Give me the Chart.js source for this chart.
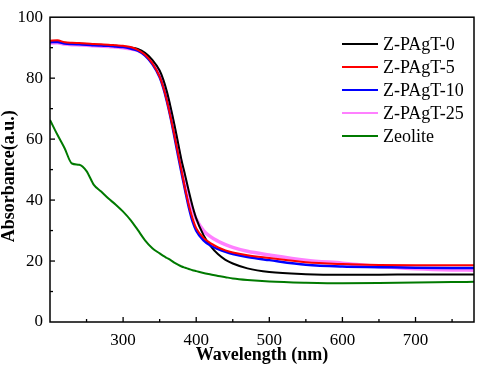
<!DOCTYPE html>
<html>
<head>
<meta charset="utf-8">
<script src="https://cdn.jsdelivr.net/npm/chart.js@4/dist/chart.umd.min.js"></script>
<style>
  html, body { margin: 0; padding: 0; background: #fff; }
</style>
</head>
<body>
<canvas id="uv" width="477" height="374"></canvas>
<script>
// wavelength grid (nm) shared by every curve
const wavelengths = [200, 210, 220, 230, 240, 250, 260, 270, 280, 290, 300, 310, 320, 330, 340, 350, 355, 360, 365, 370,
  375, 380, 385, 390, 395, 400, 410, 420, 430, 440, 450, 470, 500, 550, 600, 650, 700, 750, 780];

const zPAgT0 = [92.0, 92.1, 91.6, 91.4, 91.3, 91.2, 91.0, 90.9, 90.8, 90.6, 90.4, 90.1, 89.6, 88.3, 86.0, 82.5, 79.5, 75.5, 70.5, 65.0,
  59.0, 53.0, 48.0, 42.8, 38.0, 34.0, 28.5, 24.8, 22.2, 20.4, 19.2, 17.6, 16.4, 15.7, 15.5, 15.5, 15.6, 15.6, 15.6];
const zPAgT5 = [92.3, 92.4, 91.8, 91.6, 91.5, 91.4, 91.2, 91.1, 91.0, 90.8, 90.6, 90.2, 89.3, 87.7, 84.9, 80.5, 77.0, 72.5, 67.2, 61.5,
  55.4, 49.5, 43.5, 38.2, 34.0, 30.8, 27.6, 25.8, 24.5, 23.5, 22.8, 21.9, 21.0, 19.6, 19.0, 18.7, 18.6, 18.6, 18.6];
const zPAgT10 = [91.8, 91.9, 91.4, 91.2, 91.1, 91.0, 90.8, 90.7, 90.6, 90.4, 90.2, 89.7, 89.0, 87.4, 84.6, 80.3, 76.8, 72.3, 67.0, 61.0,
  54.8, 48.8, 43.0, 37.5, 33.0, 30.0, 26.8, 25.0, 23.9, 23.0, 22.3, 21.3, 20.3, 18.8, 18.2, 18.0, 17.8, 17.7, 17.7];
const zPAgT25 = [91.5, 91.6, 91.2, 91.0, 90.9, 90.8, 90.6, 90.5, 90.4, 90.2, 90.0, 89.6, 89.1, 87.7, 85.2, 81.3, 78.2, 74.0, 69.0, 63.3,
  57.3, 51.5, 46.0, 41.0, 37.0, 33.8, 30.0, 27.9, 26.5, 25.4, 24.5, 23.2, 22.0, 20.3, 19.3, 18.2, 17.5, 17.1, 17.0];
const zeolite = [66.3, 61.5, 57.0, 52.0, 51.6, 49.5, 45.0, 42.8, 40.5, 38.5, 36.2, 33.5, 30.2, 26.8, 24.2, 22.5, 21.7, 21.0, 20.3, 19.5,
  18.8, 18.2, 17.8, 17.4, 17.0, 16.7, 16.1, 15.6, 15.1, 14.7, 14.3, 13.8, 13.3, 12.9, 12.7, 12.8, 13.0, 13.1, 13.2];

const seriesNames = ["Z-PAgT-0", "Z-PAgT-5", "Z-PAgT-10", "Z-PAgT-25", "Zeolite"];
const xTickValues = [300, 400, 500, 600, 700];
const yTickValues = [0, 20, 40, 60, 80, 100];

const serif = '"Liberation Serif", "Times New Roman", serif';

function toPoints(ys) {
  return ys.map((y, i) => ({ x: wavelengths[i], y: y }));
}

function makeSet(label, values, color, width, order) {
  return {
    label: label,
    data: toPoints(values),
    borderColor: color,
    backgroundColor: color,
    borderWidth: width,
    pointRadius: 0,
    cubicInterpolationMode: "monotone",
    fill: false,
    order: order,
  };
}

//frame + inward ticks (major and minor)
const frameTicks = {
  id: "frameTicks",
  afterDatasetsDraw(chart) {
    const { ctx, chartArea: a } = chart;
    const xs = chart.scales.x, ys = chart.scales.y;
    ctx.save();
    ctx.strokeStyle = "#000";
    ctx.lineWidth = 1.3;
    for (let v = 250; v <= 780; v += 50) {
      const px = xs.getPixelForValue(v);
      const len = v % 100 === 0 ? 5 : 3;
      ctx.beginPath();
      ctx.moveTo(px, a.bottom);
      ctx.lineTo(px, a.bottom - len);
      ctx.stroke();
    }
    for (let v = 10; v < 100; v += 10) {
      const py = ys.getPixelForValue(v);
      const len = v % 20 === 0 ? 5 : 3;
      ctx.beginPath();
      ctx.moveTo(a.left, py);
      ctx.lineTo(a.left + len, py);
      ctx.stroke();
    }
    ctx.lineWidth = 1.5;
    ctx.strokeRect(a.left, a.top, a.right - a.left, a.bottom - a.top);
    ctx.restore();
  },
};

//legend in the upper right of the plot
const boxLegend = {
  id: "boxLegend",
  afterDraw(chart) {
    const ctx = chart.ctx;
    ctx.save();
    ctx.font = "18px " + serif;
    ctx.textBaseline = "middle";
    ctx.textAlign = "left";
    chart.data.datasets.forEach((ds, i) => {
      const y = 44 + i * 23;
      ctx.strokeStyle = ds.borderColor;
      ctx.lineWidth = 2;
      ctx.beginPath();
      ctx.moveTo(342, y);
      ctx.lineTo(378, y);
      ctx.stroke();
      ctx.fillStyle = "#000";
      ctx.fillText(ds.label, 383, y + 1);
    });
    ctx.restore();
  },
};

const chart = new Chart(document.getElementById("uv").getContext("2d"), {
  type: "line",
  data: {
    datasets: [
      makeSet(seriesNames[0], zPAgT0, "#000000", 2, 3),
      makeSet(seriesNames[1], zPAgT5, "#ff0000", 2, 1),
      makeSet(seriesNames[2], zPAgT10, "#0000ff", 2.5, 2),
      makeSet(seriesNames[3], zPAgT25, "#ff80ff", 3.5, 4),
      makeSet(seriesNames[4], zeolite, "#007a00", 2, 5),
    ],
  },
  options: {
    responsive: false,
    devicePixelRatio: 1,
    animation: false,
    layout: { padding: { top: 10, right: 3, left: 0, bottom: 0 } },
    plugins: { legend: { display: false }, tooltip: { enabled: false } },
    scales: {
      x: {
        type: "linear",
        min: 200,
        max: 780,
        afterFit(scale) { scale.height = 52; },
        afterBuildTicks(scale) { scale.ticks = xTickValues.map((v) => ({ value: v })); },
        grid: { display: false, drawTicks: false },
        border: { display: false },
        ticks: { color: "#000", padding: 8, maxRotation: 0, font: { family: serif, size: 17 } },
        title: {
          display: true,
          text: "Wavelength (nm)",
          color: "#000",
          padding: { top: 0, bottom: 10 },
          font: { family: serif, size: 18, weight: "bold", lineHeight: 1 },
        },
      },
      y: {
        min: 0,
        max: 100,
        afterFit(scale) { scale.width = 50; },
        afterBuildTicks(scale) { scale.ticks = yTickValues.map((v) => ({ value: v })); },
        grid: { display: false, drawTicks: false },
        border: { display: false },
        ticks: { color: "#000", padding: 7, font: { family: serif, size: 17 } },
        title: {
          display: true,
          text: "Absorbance(a.u.)   ",
          color: "#000",
          padding: { top: 0, bottom: 0 },
          font: { family: serif, size: 18, weight: "bold", lineHeight: 1 },
        },
      },
    },
  },
  plugins: [frameTicks, boxLegend],
});
</script>
</body>
</html>
